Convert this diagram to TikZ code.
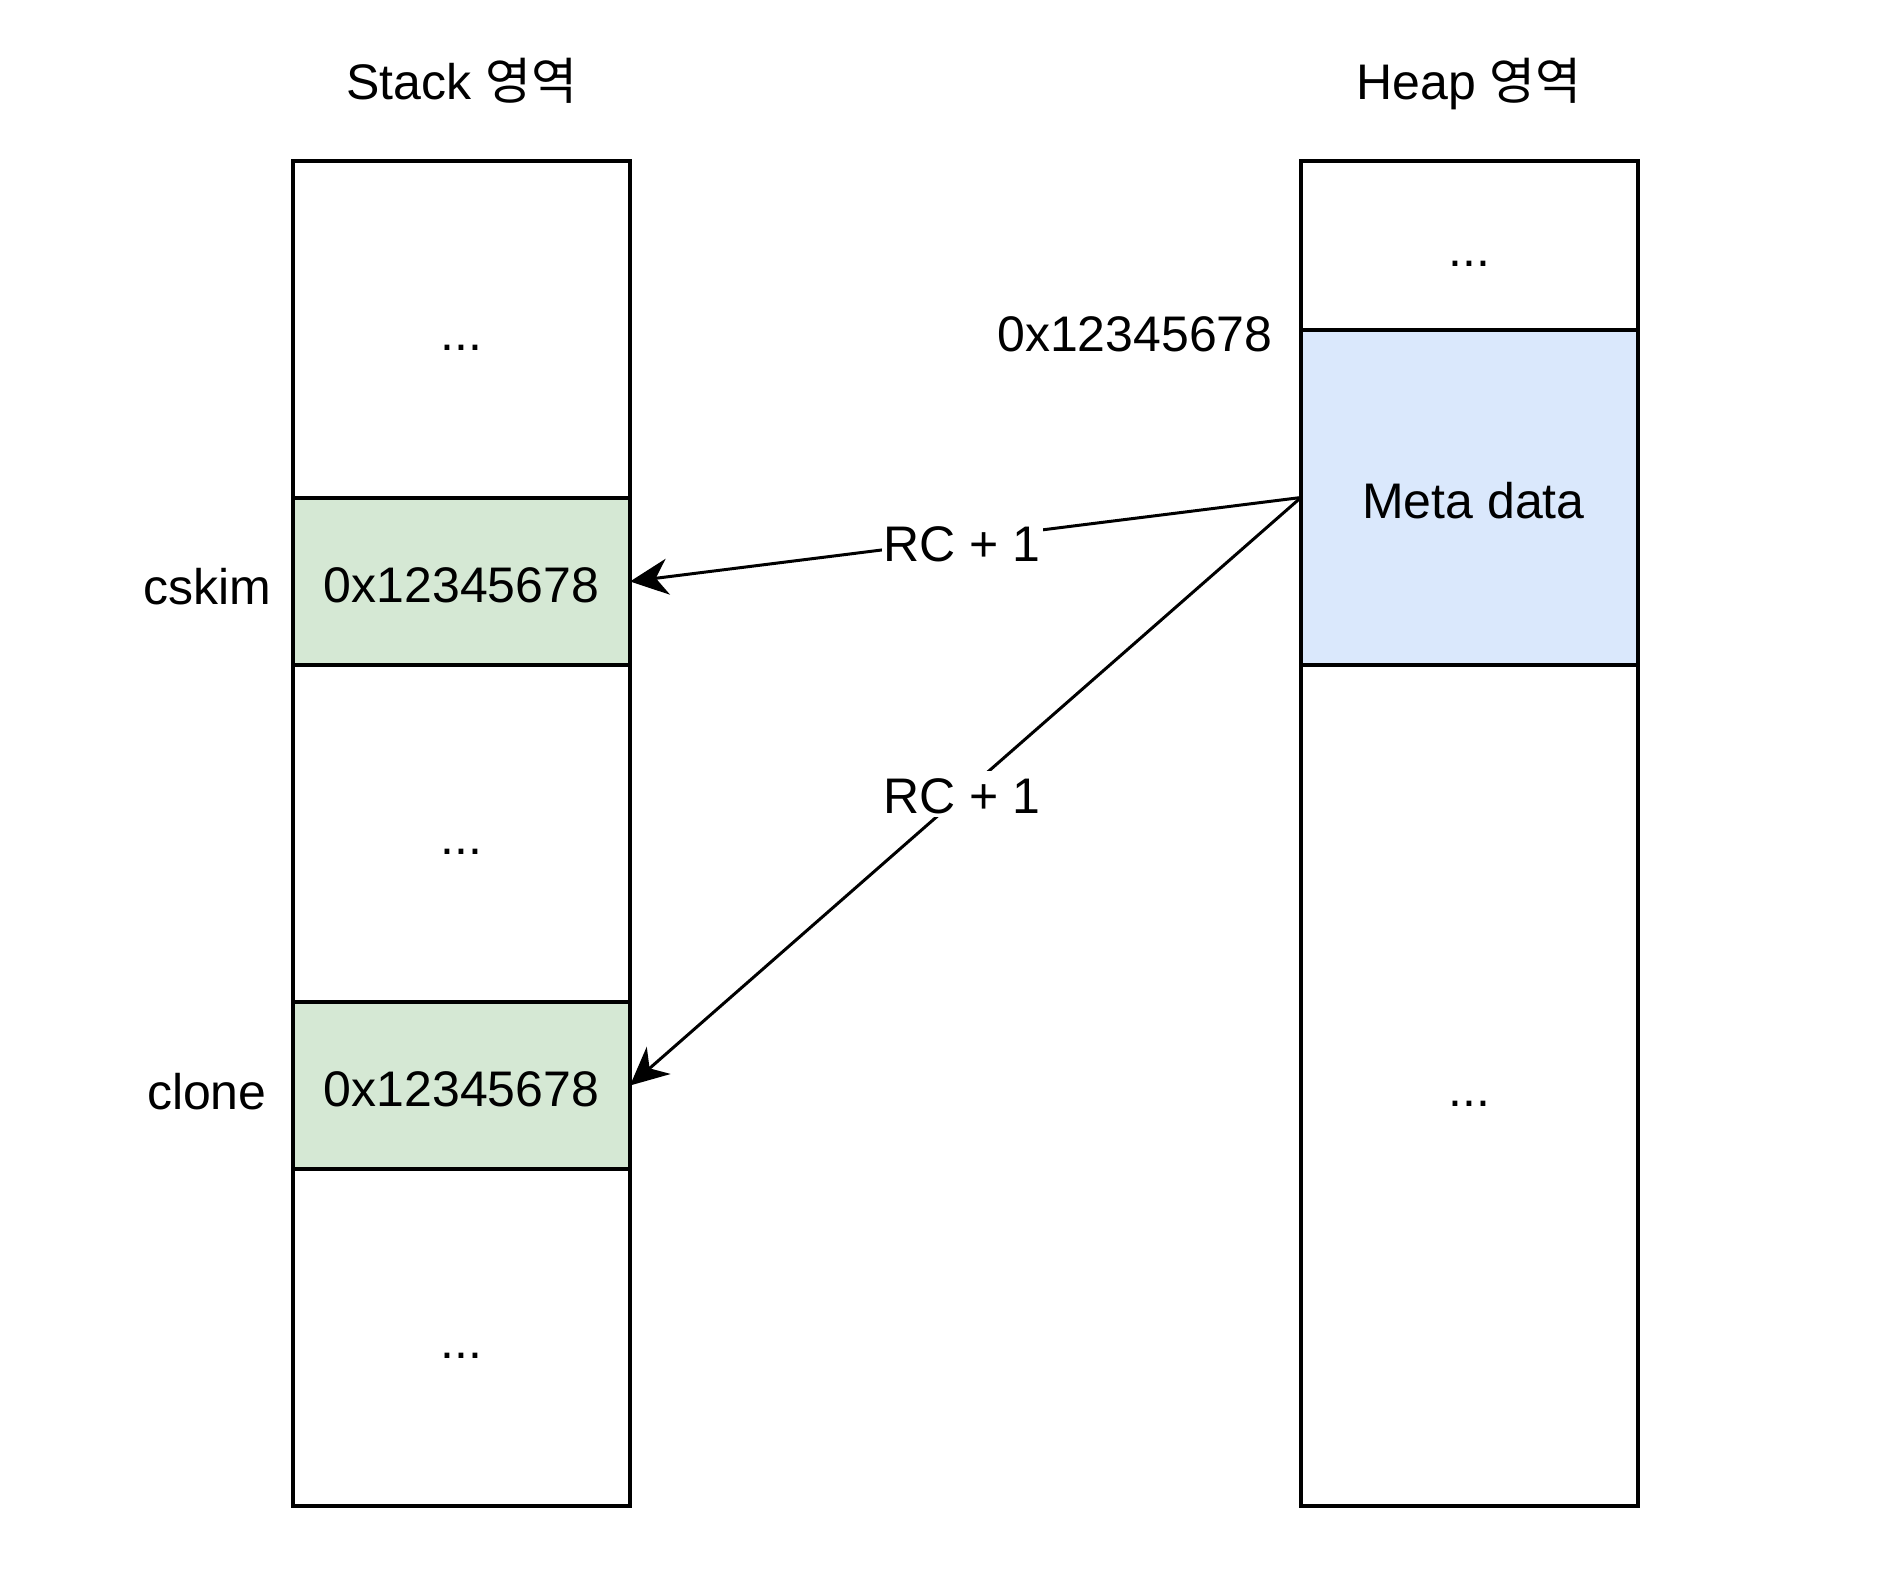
\documentclass[tikz,border=0pt]{standalone}
\usepackage{fontspec}
\setmainfont{Liberation Sans}
\newfontfamily\kr{Noto Sans CJK KR}
\usetikzlibrary{arrows.meta}
\definecolor{gfill}{HTML}{D5E8D4}
\definecolor{bfill}{HTML}{DAE8FC}
\begin{document}
\begin{tikzpicture}[x=0.5pt,y=-0.5pt,
  cell/.style={draw=black,line width=2pt,rectangle,anchor=north west,inner sep=0pt,outer sep=0pt,minimum width=168.5pt,font=\fontsize{25}{30}\selectfont,text height=22pt,text depth=1pt},
  txt/.style={font=\fontsize{25}{30}\selectfont,inner sep=0pt,text height=22pt,text depth=1pt},
  arr/.style={line width=1.5pt,-{Stealth[length=19pt,width=18pt,inset=6pt]}},
  lbl/.style={fill=white,font=\fontsize{25}{30}\selectfont,inner sep=1pt,text height=20pt,text depth=1pt}]
\useasboundingbox (0,0) rectangle (1900,1582);
% stack
\node[cell,minimum height=168.5pt] (s1) at (293,161) {...};
\node[cell,minimum height=83.5pt,fill=gfill] (g1) at (293,498) {0x12345678};
\node[cell,minimum height=168.5pt] (s2) at (293,665) {...};
\node[cell,minimum height=83.5pt,fill=gfill] (g2) at (293,1002) {0x12345678};
\node[cell,minimum height=168.5pt] (s3) at (293,1169) {...};
% heap
\node[cell,minimum height=84.5pt] (h1) at (1301,161) {...};
\node[cell,minimum height=167.5pt,fill=bfill] (meta) at (1301,330) {\hspace*{4pt}Meta data};
\node[cell,minimum height=420.5pt] (h2) at (1301,665) {...};
% titles
\node[txt] (st) at (462,79) {Stack {\kr 영역}};
\node[txt] (ht) at (1469,79) {Heap {\kr 영역}};
\node[txt,anchor=east] (nm1) at (272,584) {cskim};
\node[txt,anchor=east] (nm2) at (267,1088) {clone};
\node[txt,anchor=east] (addr) at (1273,331) {0x12345678};
% arrows
\draw[arr] (meta.west) -- node[lbl,pos=0.505,yshift=-1.5pt] {RC + 1} (g1.east);
\draw[arr] (meta.west) -- node[lbl,pos=0.505] {RC + 1} (g2.east);
\end{tikzpicture}
\end{document}
